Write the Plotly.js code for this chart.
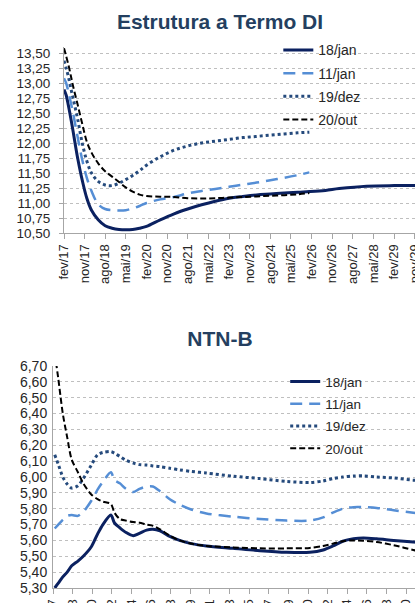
<!DOCTYPE html>
<html><head><meta charset="utf-8">
<script src="https://cdn.plot.ly/plotly-3.0.1.min.js"></script>
<style>
html,body{margin:0;padding:0;width:415px;height:603px;overflow:hidden;background:#fff}
#di{position:absolute;left:0;top:0;width:440px;height:294px}
#ntnb{position:absolute;left:0;top:294px;width:440px;height:360px}
</style>
</head><body>
<div id="di"></div><div id="ntnb"></div>
<script>
// ---------- DATA: Estrutura a Termo DI ----------
const seriesNames = ['18/jan', '11/jan', '19/dez', '20/out'];

const diDates = ['2017-02','2017-03','2017-04','2017-05','2017-06','2017-08','2017-10','2017-12','2018-02','2018-05',
  '2018-08','2018-11','2019-02','2019-05','2019-08','2019-11','2020-02','2020-08','2021-02','2021-08',
  '2022-02','2022-08','2023-02','2023-08','2024-02','2024-08','2025-02','2025-08','2026-01','2026-08',
  '2027-02','2028-02','2029-02','2030-02','2030-11'];
const di18jan = [12.89,12.8,12.62,12.42,12.2,11.75,11.38,11.08,10.88,10.72,
  10.62,10.58,10.56,10.555,10.56,10.58,10.61,10.72,10.82,10.9,
  10.97,11.03,11.08,11.11,11.135,11.15,11.165,11.18,11.19,11.21,
  11.24,11.28,11.29,11.29,11.29];
const di11jan = [13.08,13.0,12.85,12.68,12.5,12.1,11.72,11.42,11.2,10.98,
  10.9,10.88,10.875,10.88,10.91,10.95,11.0,11.06,11.1,11.16,
  11.2,11.235,11.27,11.305,11.34,11.38,11.42,11.465,11.51,null,
  null,null,null,null,null];
const di19dez = [13.37,13.25,13.1,12.92,12.75,12.4,12.0,11.7,11.5,11.36,
  11.3,11.29,11.33,11.39,11.46,11.54,11.63,11.77,11.88,11.95,
  12.0,12.03,12.06,12.09,12.11,12.13,12.15,12.17,12.18,null,
  null,null,null,null,null];
const di20out = [13.58,13.45,13.3,13.13,12.95,12.64,12.32,12.02,11.84,11.66,
  11.53,11.44,11.35,11.26,11.19,11.14,11.115,11.105,11.1,11.08,
  11.075,11.08,11.09,11.1,11.11,11.12,11.13,11.145,11.165,null,
  null,null,null,null,null];
const diTickLabels = ['fev/17','nov/17','ago/18','mai/19','fev/20','nov/20','ago/21','mai/22','fev/23',
  'nov/23','ago/24','mai/25','fev/26','nov/26','ago/27','mai/28','fev/29','nov/29'];
const diYTicks = [10.5,10.75,11,11.25,11.5,11.75,12,12.25,12.5,12.75,13,13.25,13.5];

// ---------- DATA: NTN-B ----------
const ntnbDates = ['2017-04','2017-08','2018-01','2018-06','2018-11','2019-06','2019-12','2020-09','2021-04','2021-10',
  '2022-07','2022-11','2023-05','2023-12','2024-08','2025-03','2025-11','2026-06','2027-02','2028-01',
  '2028-12','2030-01','2031-06','2033-12','2036-06','2038-12','2041-02','2042-05','2043-04','2044-03',
  '2045-03','2046-02','2047-05','2048-12','2050-10','2052-12'];
const nb18jan = [5.30,5.33,5.37,5.40,5.44,5.47,5.50,5.56,5.64,5.70,
  5.76,5.71,5.68,5.65,5.63,5.645,5.665,5.67,5.66,5.625,
  5.60,5.58,5.565,5.55,5.535,5.525,5.525,5.54,5.565,5.595,
  5.61,5.615,5.61,5.60,5.59,5.575];
const nb11jan = [5.675,5.70,5.73,5.755,5.76,5.755,5.78,5.85,5.92,5.97,
  6.03,5.98,5.96,5.925,5.905,5.925,5.94,5.94,5.91,5.86,
  5.825,5.795,5.77,5.75,5.735,5.725,5.725,5.745,5.775,5.80,
  5.81,5.81,5.805,5.79,5.775,5.76];
const nb19dez = [6.14,6.08,6.0,5.955,5.93,5.945,5.99,6.075,6.14,6.155,
  6.16,6.15,6.13,6.105,6.088,6.078,6.075,6.07,6.065,6.055,
  6.045,6.035,6.025,6.005,5.99,5.972,5.965,5.975,5.99,6.0,
  6.006,6.007,6.0,5.994,5.98,5.97];
const nb20out = [6.78,6.62,6.40,6.25,6.11,6.03,5.96,5.89,5.86,5.845,
  5.83,5.775,5.735,5.725,5.716,5.712,5.70,5.693,5.67,5.63,
  5.60,5.58,5.565,5.556,5.55,5.55,5.553,5.565,5.58,5.595,
  5.60,5.598,5.59,5.57,5.54,5.51];
const ntnbTickLabels = ['fev/17','dez/18','out/20','ago/22','jun/24','abr/26','fev/28','dez/29','out/31',
  'ago/33','jun/35','abr/37','fev/39','dez/40','out/42','ago/44','jun/46','abr/48','fev/50'];
const ntnbYTicks = [5.3,5.4,5.5,5.6,5.7,5.8,5.9,6.0,6.1,6.2,6.3,6.4,6.5,6.6,6.7];

// ---------- helpers / styles ----------
const MONTHS = {jan:1,fev:2,mar:3,abr:4,mai:5,jun:6,jul:7,ago:8,set:9,out:10,nov:11,dez:12};
function labelToDate(l){ const [m,y]=l.split('/'); return '20'+y+'-'+String(MONTHS[m]).padStart(2,'0')+'-01'; }
function fmt(v, d){ return v.toFixed(d).replace('.', ','); }

const FONT = 'Liberation Sans, Arial, sans-serif';
const styles = [
  {color:'#0B2160', width:3, dash:'solid'},
  {color:'#558ED5', width:2.5, dash:'12px,7px'},
  {color:'#254A7C', width:3, dash:'dot'},
  {color:'#000000', width:2, dash:'6px,3px'}
];

function makeTraces(x, ys, smoothing){
  return ys.map((y,i)=>({
    type:'scatter', mode:'lines', x:x, y:y, name:seriesNames[i],
    legendgroup:'g'+i, connectgaps:false,
    line:{color:styles[i].color, width:styles[i].width, dash:styles[i].dash, shape:'spline', smoothing:smoothing},
    hoverinfo:'skip'
  }));
}

function makeLayout(opts){
  return {
    width:440, height:opts.height,
    margin:{l:opts.l, r:0, t:opts.t, b:opts.b},
    paper_bgcolor:'#fff', plot_bgcolor:'#fff',
    title:{text:opts.title, x:0.5, xanchor:'center', xref:'container', yref:'container', y:opts.titleY, yanchor:'middle',
      font:{family:FONT, size:21, color:'#243F60', weight:'bold'}},
    font:{family:FONT, size:13, color:'#262626'},
    showlegend:true,
    legend:{x:opts.legX, y:opts.legY, xanchor:'left', yanchor:'top', bgcolor:'rgba(0,0,0,0)',
      font:{family:FONT, size:opts.legSize, color:'#262626'}, traceorder:'grouped', tracegroupgap:opts.legGap, itemwidth:30},
    xaxis:{type:'date', range:opts.xRange, tickmode:'array',
      tickvals:opts.tickLabels.map(labelToDate), ticktext:opts.tickLabels, tickangle:-90,
      showgrid:false, showline:true, linecolor:'#A6A6A6', linewidth:1, ticks:'outside', ticklen:5, tickcolor:'#A6A6A6',
      tickfont:{family:FONT, size:13, color:'#262626'}, zeroline:false},
    yaxis:{range:opts.yRange, tickmode:'array', tickvals:opts.yTicks, ticktext:opts.yTicks.map(v=>fmt(v,2)),
      showgrid:true, gridcolor:'#BFBFBF', gridwidth:1, griddash:'dot',
      showline:true, linecolor:'#A6A6A6', linewidth:1, ticks:opts.yticks, ticklen:4, tickcolor:'#A6A6A6',
      ticklabelstandoff:opts.ystand,
      tickfont:{family:FONT, size:opts.ySize, color:'#262626'}, zeroline:false}
  };
}

Plotly.newPlot('di', makeTraces(diDates,[di18jan,di11jan,di19dez,di20out],1),
  makeLayout({height:294, l:64, t:47, b:61, title:'Estrutura a Termo DI', titleY:1-22/294,
    legX:0.57, legY:1.068, legSize:14, legGap:2,
    xRange:['2017-02-01','2030-10-01'], tickLabels:diTickLabels, yRange:[10.5,13.6], yTicks:diYTicks,
    yticks:'outside', ystand:6, ySize:13.5}),
  {staticPlot:true});

Plotly.newPlot('ntnb', makeTraces(ntnbDates,[nb18jan,nb11jan,nb19dez,nb20out],0.8),
  makeLayout({height:360, l:53, t:72, b:66, title:'NTN-B', titleY:1-45/360,
    legX:0.6, legY:0.999, legSize:13.5, legGap:1.7,
    xRange:['2017-02-01','2053-04-01'], tickLabels:ntnbTickLabels, yRange:[5.3,6.7], yTicks:ntnbYTicks,
    yticks:'', ystand:2, ySize:14}),
  {staticPlot:true});
</script>
</body></html>
